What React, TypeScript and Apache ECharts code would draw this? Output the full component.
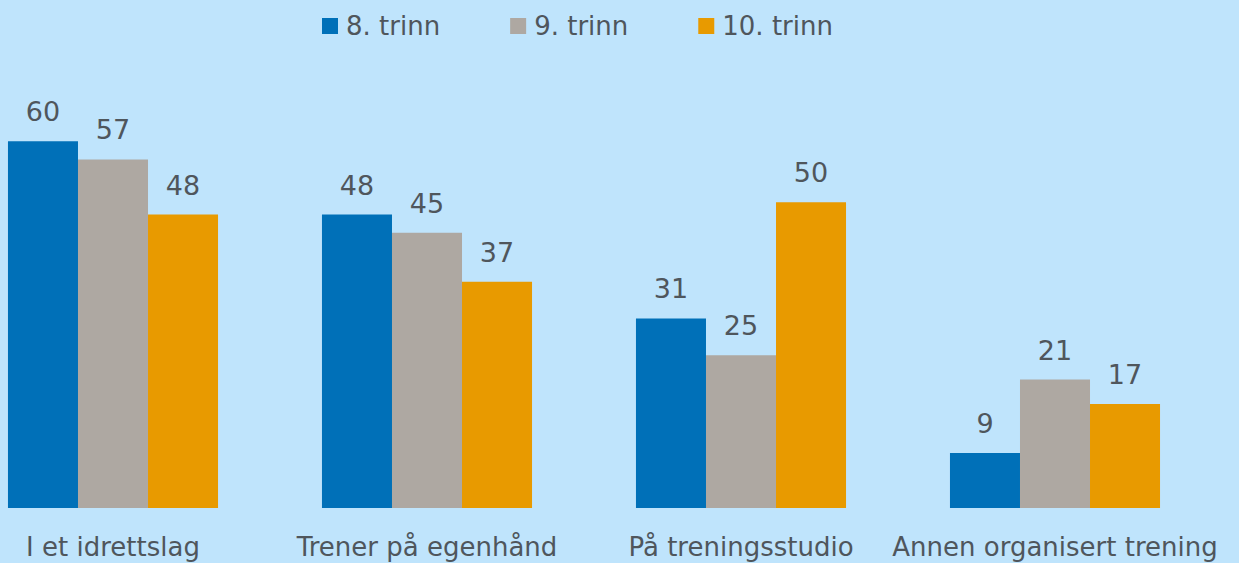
import React, { useEffect, useRef } from "react";
import * as echarts from "echarts";

const categories = ["I et idrettslag", "Trener på egenhånd", "På treningsstudio", "Annen organisert trening"];
const seriesNames = ["8. trinn", "9. trinn", "10. trinn"];
const grade8 = [60, 48, 31, 9];
const grade9 = [57, 45, 25, 21];
const grade10 = [48, 37, 50, 17];
const colors = ["#0070b8", "#aea8a2", "#e89a00"];

const FONT = "'DejaVu Sans', sans-serif";
const TEXT = "#4f565c";
const SHIFT = 44;

export default function App() {
  const ref = useRef<HTMLDivElement>(null);
  useEffect(() => {
    const chart = echarts.init(ref.current!, null, { renderer: "svg" });
    const values = [grade8, grade9, grade10];
    chart.setOption({
      animation: false,
      backgroundColor: "#bfe4fc",
      textStyle: { fontFamily: FONT },
      legend: {
        top: 13,
        left: 322 + SHIFT,
        padding: 0,
        icon: "rect",
        itemWidth: 16,
        itemHeight: 16,
        itemGap: 70,
        textStyle: { fontSize: 26, color: TEXT, fontFamily: FONT, padding: [0, 0, 0, 3] },
        data: seriesNames,
      },
      grid: { left: 0, width: 1256, top: 80, bottom: 55 },
      xAxis: {
        type: "category",
        data: categories,
        axisLine: { show: false },
        axisTick: { show: false },
        axisLabel: { fontSize: 26, color: TEXT, margin: 26, fontFamily: FONT, interval: 0 },
      },
      yAxis: {
        type: "value",
        min: 0,
        max: 70,
        show: false,
        splitLine: { show: false },
      },
      series: seriesNames.map((name, i) => ({
        name,
        type: "bar",
        data: values[i],
        barGap: "0%",
        barCategoryGap: "33.1%",
        itemStyle: { color: colors[i] },
        label: {
          show: true,
          position: "top",
          distance: 16,
          fontSize: 27,
          color: TEXT,
          fontFamily: FONT,
        },
      })),
    });
    return () => chart.dispose();
  }, []);
  return (
    <div style={{ position: "absolute", left: 0, top: 0, width: 1239, height: 563, overflow: "hidden" }}>
      <div
        ref={ref}
        style={{ position: "absolute", left: -SHIFT, top: 0, width: 1300, height: 563 }}
      />
    </div>
  );
}
